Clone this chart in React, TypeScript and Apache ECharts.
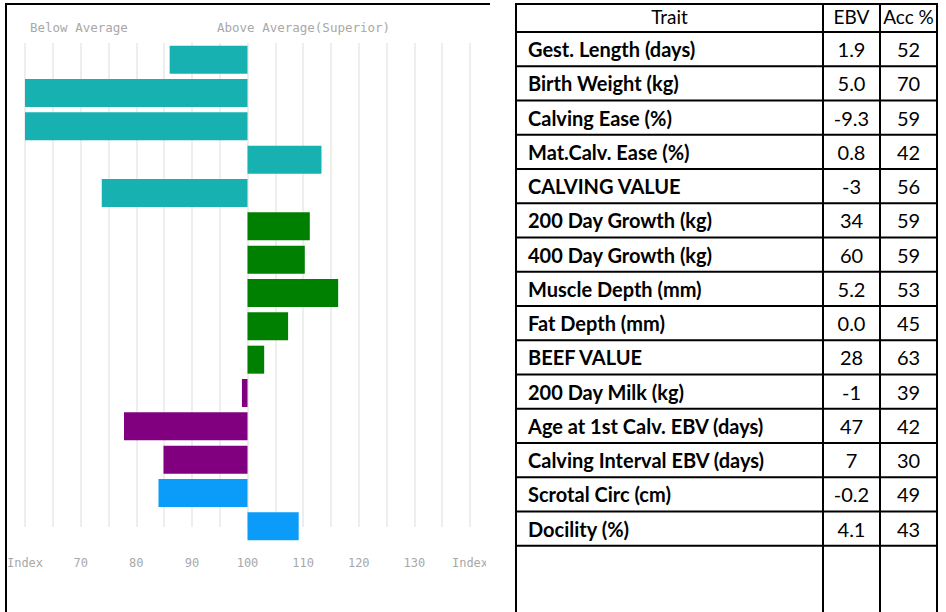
import React, { useEffect, useRef } from "react";
import * as echarts from "echarts";

// ---- data ----
const traits = [
  "Gest. Length (days)",
  "Birth Weight (kg)",
  "Calving Ease (%)",
  "Mat.Calv. Ease (%)",
  "CALVING VALUE",
  "200 Day Growth (kg)",
  "400 Day Growth (kg)",
  "Muscle Depth (mm)",
  "Fat Depth (mm)",
  "BEEF VALUE",
  "200 Day Milk (kg)",
  "Age at 1st Calv. EBV (days)",
  "Calving Interval EBV (days)",
  "Scrotal Circ (cm)",
  "Docility (%)",
];
const indexValues = [86, 60, 60, 113.3, 73.8, 111.2, 110.3, 116.3, 107.3, 103, 99, 77.8, 84.9, 84, 109.2];
const groups = [
  "calving", "calving", "calving", "calving", "calving",
  "beef", "beef", "beef", "beef", "beef",
  "fertility", "fertility", "fertility",
  "other", "other",
];
const ebvValues = ["1.9", "5.0", "-9.3", "0.8", "-3", "34", "60", "5.2", "0.0", "28", "-1", "47", "7", "-0.2", "4.1"];
const accValues = ["52", "70", "59", "42", "56", "59", "59", "53", "45", "63", "39", "42", "30", "49", "43"];
const tableHeaders = ["Trait", "EBV", "Acc %"];
const chartHeaders = ["Below Average", "Above Average(Superior)"];
const axisEdgeLabel = "Index";
const AVERAGE = 100;

// ---- styles ----
const groupColors: Record<string, string> = {
  calving: "#17b1b1",
  beef: "#008000",
  fertility: "#800080",
  other: "#0a9cf8",
};
const TABLE_FONT = "Lato";
const TABLE_SIZE = 20;
const AXIS_FONT = "DejaVu Sans Mono";

export default function App() {
  const ref = useRef<HTMLDivElement>(null);
  useEffect(() => {
    document.body.style.margin = "0";
    const chart = echarts.init(ref.current!, undefined, { renderer: "svg" });

    const colX = [516, 823, 880, 937];
    const headerTop = 4;
    const headerBottom = 32;
    const rowH = 34.25;
    const bottom = 612;
    const graphics: any[] = [];
    const line = (x1: number, y1: number, x2: number, y2: number) => ({
      type: "line",
      z: 50,
      shape: { x1, y1, x2, y2 },
      style: { stroke: "#000", lineWidth: 2 },
    });
    // chart frame
    graphics.push(line(6, 4, 490, 4));
    graphics.push(line(6, 3, 6, bottom));
    // grid lines stop a little above the last bar's bottom
    graphics.push({
      type: "rect",
      z: 1,
      shape: { x: 15, y: 527, width: 470, height: 18 },
      style: { fill: "#fff" },
    });
    // cover for clipped edge label
    graphics.push({
      type: "rect",
      z: 40,
      shape: { x: 486, y: 546, width: 28, height: 40 },
      style: { fill: "#fff" },
    });
    // chart header texts
    graphics.push({
      type: "text", z: 50, x: 30, y: 27,
      style: { text: chartHeaders[0], fill: "#a8a8a8", font: `12.5px "${AXIS_FONT}"`, verticalAlign: "middle" },
    });
    graphics.push({
      type: "text", z: 50, x: 217, y: 27,
      style: { text: chartHeaders[1], fill: "#a8a8a8", font: `12.5px "${AXIS_FONT}"`, verticalAlign: "middle" },
    });
    // table lines
    colX.forEach((x) => graphics.push(line(x, headerTop - 1, x, bottom)));
    graphics.push(line(colX[0], headerTop, colX[3], headerTop));
    graphics.push(line(colX[0], headerBottom, colX[3], headerBottom));
    traits.forEach((_, i) => {
      const y = headerBottom + rowH * (i + 1);
      graphics.push(line(colX[0], y, colX[3], y));
    });
    // header texts
    tableHeaders.forEach((h, c) => {
      graphics.push({
        type: "text", z: 50,
        x: (colX[c] + colX[c + 1]) / 2,
        y: 16,
        style: {
          text: h, fill: "#000", font: `${TABLE_SIZE - 1}px "${TABLE_FONT}"`,
          align: "center", verticalAlign: "middle",
        },
      });
    });
    // rows
    traits.forEach((t, i) => {
      const cy = headerBottom + rowH * i + rowH / 2;
      graphics.push({
        type: "text", z: 50, x: colX[0] + 12, y: cy,
        style: { text: t, fill: "#000", font: `bold ${TABLE_SIZE}px "${TABLE_FONT}"`, verticalAlign: "middle" },
      });
      graphics.push({
        type: "text", z: 50, x: (colX[1] + colX[2]) / 2, y: cy,
        style: { text: ebvValues[i], fill: "#000", font: `${TABLE_SIZE}px "${TABLE_FONT}"`, align: "center", verticalAlign: "middle" },
      });
      graphics.push({
        type: "text", z: 50, x: (colX[2] + colX[3]) / 2, y: cy,
        style: { text: accValues[i], fill: "#000", font: `${TABLE_SIZE}px "${TABLE_FONT}"`, align: "center", verticalAlign: "middle" },
      });
    });

    chart.setOption({
      animation: false,
      backgroundColor: "#fff",
      grid: { left: 25, right: 476, top: 43, bottom: 69, containLabel: false },
      xAxis: {
        type: "value",
        min: 60,
        max: 140,
        interval: 5,
        axisLine: { show: false },
        axisTick: { show: false },
        splitLine: { show: true, lineStyle: { color: "#e8e8e8", width: 1.5 } },
        axisLabel: {
          margin: 14,
          color: "#a8a8a8",
          fontFamily: AXIS_FONT,
          fontSize: 12,
          showMinLabel: true,
          showMaxLabel: true,
          formatter: (v: number) =>
            v === 60 || v === 140 ? axisEdgeLabel : v % 10 === 0 ? String(v) : "",
        },
      },
      yAxis: {
        type: "category",
        inverse: true,
        data: traits,
        axisLine: { show: false },
        axisTick: { show: false },
        axisLabel: { show: false },
        splitLine: { show: false },
      },
      series: [
        {
          type: "bar",
          stack: "idx",
          silent: true,
          barCategoryGap: "16%",
          itemStyle: { color: "transparent" },
          data: indexValues.map((v) => Math.min(v, AVERAGE)),
        },
        {
          type: "bar",
          stack: "idx",
          silent: true,
          barCategoryGap: "16%",
          data: indexValues.map((v, i) => ({
            value: Math.abs(v - AVERAGE),
            itemStyle: { color: groupColors[groups[i]] },
          })),
        },
      ],
      graphic: graphics,
    });
    return () => chart.dispose();
  }, []);
  return <div ref={ref} style={{ width: 946, height: 612 }} />;
}
